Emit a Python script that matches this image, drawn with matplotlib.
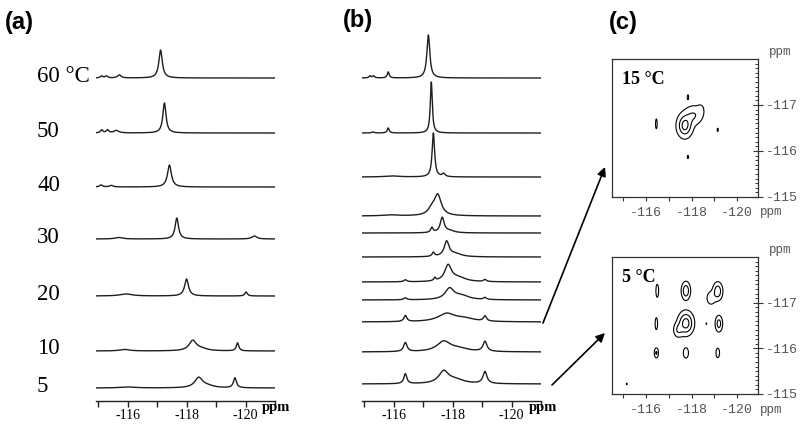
import numpy as np
import matplotlib
matplotlib.use("Agg")
import matplotlib.pyplot as plt
import matplotlib.transforms as mtransforms

plt.rcParams['axes.unicode_minus'] = False

# ---------------- data ----------------
# panel (a): 1D 19F spectra at temperatures (peak tables: ppm, height, half-width)
temps_a = ["60 °C", "50", "40", "30", "20", "10", "5"]
peaks_a = [
    [(-117.12, 28, 0.07), (-115.72, 3, 0.07), (-115.12, 2, 0.05), (-115.28, 2, 0.05)],
    [(-117.25, 30, 0.065), (-115.12, 3, 0.05), (-115.32, 3, 0.05), (-115.62, 2.5, 0.1)],
    [(-117.42, 22, 0.08), (-115.1, 2, 0.06), (-115.45, 1.5, 0.08)],
    [(-117.67, 21, 0.07), (-120.3, 3, 0.1), (-115.7, 1.5, 0.15)],
    [(-118.0, 17, 0.08), (-120.02, 4, 0.05), (-115.95, 2, 0.25)],
    [(-118.21, 10, 0.15), (-118.5, 2, 0.25), (-119.73, 8, 0.05), (-115.9, 1.5, 0.2)],
    [(-118.41, 10, 0.16), (-118.7, 2, 0.25), (-119.64, 10, 0.06), (-116.0, 1, 0.3)],
]
# panel (b): 1D spectra series (top to bottom)
peaks_b = [
    [(-117.18, 43, 0.06), (-115.82, 6, 0.04), (-115.2, 2, 0.04), (-115.32, 2, 0.04)],
    [(-117.28, 51, 0.04), (-115.82, 5, 0.04), (-115.3, 1, 0.05)],
    [(-117.35, 44, 0.05), (-117.7, 3, 0.06), (-115.95, 1, 0.3)],
    [(-117.5, 20, 0.14), (-117.3, 6, 0.15), (-115.9, 1, 0.3)],
    [(-117.65, 15, 0.08), (-117.3, 5, 0.05), (-117.9, 2, 0.2)],
    [(-117.8, 15, 0.1), (-117.35, 4, 0.05), (-118.1, 3, 0.25)],
    [(-117.85, 16, 0.14), (-118.2, 4, 0.3), (-116.4, 2, 0.06), (-117.4, 3, 0.04), (-119.1, 2, 0.06)],
    [(-117.9, 11, 0.18), (-118.3, 4, 0.3), (-116.4, 2, 0.06), (-119.1, 2, 0.06)],
    [(-117.8, 8, 0.35), (-118.4, 3, 0.4), (-116.4, 6, 0.06), (-119.1, 5, 0.06)],
    [(-117.7, 10, 0.28), (-118.2, 3, 0.4), (-116.4, 9, 0.07), (-119.1, 10, 0.08)],
    [(-117.7, 12, 0.2), (-118.1, 4, 0.35), (-116.4, 10, 0.06), (-119.1, 12, 0.08)],
]
tick_major = [-116, -118, -120]
tick_major_labels = ["-116", "-118", "-120"]
tick_minor = [-115, -117, -119, -121]

# panel (c): 2D cross-peak tables (x ppm, y ppm, amplitude, sx, sy)
peaks_c15 = [
    (-117.7, -116.55, 1.0, 0.2, 0.15),
    (-118.1, -116.78, 0.5, 0.25, 0.13),
    (-118.4, -116.9, 0.2, 0.1, 0.08),
    (-117.84, -117.17, 0.25, 0.03, 0.05),
    (-116.45, -116.59, 0.3, 0.03, 0.09),
    (-119.15, -116.46, 0.22, 0.03, 0.04),
    (-117.84, -115.87, 0.22, 0.03, 0.04),
]
peaks_c5 = [
    (-116.49, -117.26, 0.3, 0.05, 0.12),
    (-117.75, -117.26, 0.7, 0.12, 0.12),
    (-119.15, -117.25, 0.7, 0.13, 0.12),
    (-118.85, -117.1, 0.35, 0.13, 0.1),
    (-116.45, -116.54, 0.35, 0.04, 0.1),
    (-117.75, -116.55, 1.0, 0.2, 0.15),
    (-117.4, -116.4, 0.4, 0.13, 0.1),
    (-118.65, -116.54, 0.18, 0.02, 0.03),
    (-119.2, -116.54, 0.6, 0.1, 0.11),
    (-116.45, -115.9, 0.5, 0.06, 0.07),
    (-117.75, -115.9, 0.4, 0.08, 0.08),
    (-119.15, -115.9, 0.35, 0.06, 0.08),
    (-115.15, -115.22, 0.18, 0.03, 0.03),
]
c_xticks = [-116, -118, -120]
c_xtick_labels = ["-116", "-118", "-120"]
c_yticks = [-117, -116, -115]
c_ytick_labels = ["-117", "-116", "-115"]

# ---------------- layout ----------------
W, H = 800, 430
offsets_a = [323, 268, 214, 162, 105, 50, 13]
offsets_b = [323, 268, 224, 185, 168, 144, 119, 101, 79, 49, 17]

fig = plt.figure(figsize=(8, 4.3), dpi=100)

def px_rect(x0, y0, x1, y1):
    return [x0 / W, 1 - y1 / H, (x1 - x0) / W, (y1 - y0) / H]

serif = "Liberation Serif"
mono = "Liberation Mono"
sans = "Liberation Sans"

def spectrum(x, peaks):
    y = np.zeros_like(x)
    for x0, h, w in peaks:
        y += h / (1 + ((x - x0) / w) ** 2)
    return y

xs = np.linspace(-114.93, -120.98, 1500)

def style_1d(ax):
    ax.set_xlim(-114.93, -120.98)
    ax.set_ylim(0, 381)
    for s in ("top", "left", "right"):
        ax.spines[s].set_visible(False)
    ax.spines["bottom"].set_linewidth(1.0)
    ax.spines["bottom"].set_color("#222")
    ax.set_yticks([])
    ax.set_xticks(tick_major)
    ax.set_xticklabels(tick_major_labels, fontfamily=serif, fontsize=10)
    ax.set_xticks(tick_minor, minor=True)
    ax.tick_params(axis="x", which="both", direction="out", length=4, width=1.0,
                   color="#222", pad=1.5)
    ax.patch.set_alpha(0)

# panel (a)
axa = fig.add_axes(px_rect(96, 20, 275, 401))
style_1d(axa)
for pk, off in zip(peaks_a, offsets_a):
    axa.plot(xs, off + spectrum(xs, pk), color="#1e1e1e", lw=1.0)
trans_a = mtransforms.blended_transform_factory(fig.transFigure, axa.transData)
for lab, off in zip(temps_a, offsets_a):
    fig.text(37 / W, off + 2, lab, transform=trans_a, fontfamily=serif,
             fontsize=16.5, va="center", ha="left")

# panel (b)
axb = fig.add_axes(px_rect(362, 20, 541, 401))
style_1d(axb)
for pk, off in zip(peaks_b, offsets_b):
    axb.plot(xs, off + spectrum(xs, pk), color="#1e1e1e", lw=1.0)

fig.text(276 / W, 1 - 408 / H, "ppm", fontfamily=serif, fontweight="bold",
         fontsize=10.5, ha="center", va="center")
fig.text(543 / W, 1 - 408 / H, "ppm", fontfamily=serif, fontweight="bold",
         fontsize=10.5, ha="center", va="center")

# panel labels
fig.text(5 / W, 1 - 22 / H, "(a)", fontfamily=sans, fontweight="bold", fontsize=17,
         ha="left", va="center")
fig.text(343 / W, 1 - 20 / H, "(b)", fontfamily=sans, fontweight="bold", fontsize=17,
         ha="left", va="center")
fig.text(609 / W, 1 - 22 / H, "(c)", fontfamily=sans, fontweight="bold", fontsize=17,
         ha="left", va="center")

# panel (c)
gx = np.linspace(-114.5, -120.92, 500)
gy = np.linspace(-115.0, -118.0, 300)
GX, GY = np.meshgrid(gx, gy)

def field(peaks):
    z = np.zeros_like(GX)
    for x0, y0, a, sx, sy in peaks:
        z += a * np.exp(-0.5 * (((GX - x0) / sx) ** 2 + ((GY - y0) / sy) ** 2))
    return z

def style_2d(ax, top_px, label):
    ax.set_xlim(-114.5, -120.92)
    ax.set_ylim(-115.0, -118.0)
    for s in ax.spines.values():
        s.set_linewidth(0.9)
        s.set_color("#333")
    ax.yaxis.tick_right()
    ax.set_xticks(c_xticks)
    ax.set_xticklabels(c_xtick_labels, fontfamily=mono, fontsize=9.5, color="#555")
    ax.set_xticks([-115, -117, -119], minor=True)
    ax.set_yticks(c_yticks)
    ax.set_yticklabels(c_ytick_labels, fontfamily=mono, fontsize=9.5, color="#555")
    ax.set_yticks(np.arange(-117.9, -115.0, 0.1), minor=True)
    ax.tick_params(axis="x", which="both", direction="out", length=3, width=0.8,
                   color="#333", pad=4, top=False)
    ax.tick_params(axis="y", which="major", direction="inout", length=7, width=0.8,
                   color="#333", pad=2, left=False, right=True)
    ax.tick_params(axis="y", which="minor", direction="in", length=2.5, width=0.7,
                   color="#333", left=False, right=True)
    ax.text(0.07, 0.85, label, transform=ax.transAxes, fontfamily=serif,
            fontweight="bold", fontsize=13, ha="left", va="center")
    fig.text(780 / W, 1 - (top_px - 7) / H, "ppm", fontfamily=mono, fontsize=9,
             color="#555", ha="center", va="center")
    fig.text(771 / W, 1 - (top_px + 153) / H, "ppm", fontfamily=mono, fontsize=9,
             color="#555", ha="center", va="center")

axc1 = fig.add_axes(px_rect(612, 59, 758, 197))
axc1.contour(GX, GY, field(peaks_c15), levels=[0.15, 0.5, 0.85], colors="black",
             linewidths=0.8)
style_2d(axc1, 59, "15 °C")

axc2 = fig.add_axes(px_rect(612, 257, 758, 394))
axc2.contour(GX, GY, field(peaks_c5), levels=[0.15, 0.45, 0.8], colors="black",
             linewidths=0.8)
style_2d(axc2, 257, "5 °C")

# arrows from (b) to (c)
arrow = dict(arrowstyle="-|>", lw=1.2, color="black", mutation_scale=13,
             shrinkA=0, shrinkB=0)
fig.add_artist(matplotlib.patches.FancyArrowPatch(
    (543 / W, 1 - 323 / H), (605 / W, 1 - 167 / H), transform=fig.transFigure, **arrow))
fig.add_artist(matplotlib.patches.FancyArrowPatch(
    (552 / W, 1 - 385 / H), (605 / W, 1 - 333 / H), transform=fig.transFigure, **arrow))

fig.savefig("out.png", dpi=100)
